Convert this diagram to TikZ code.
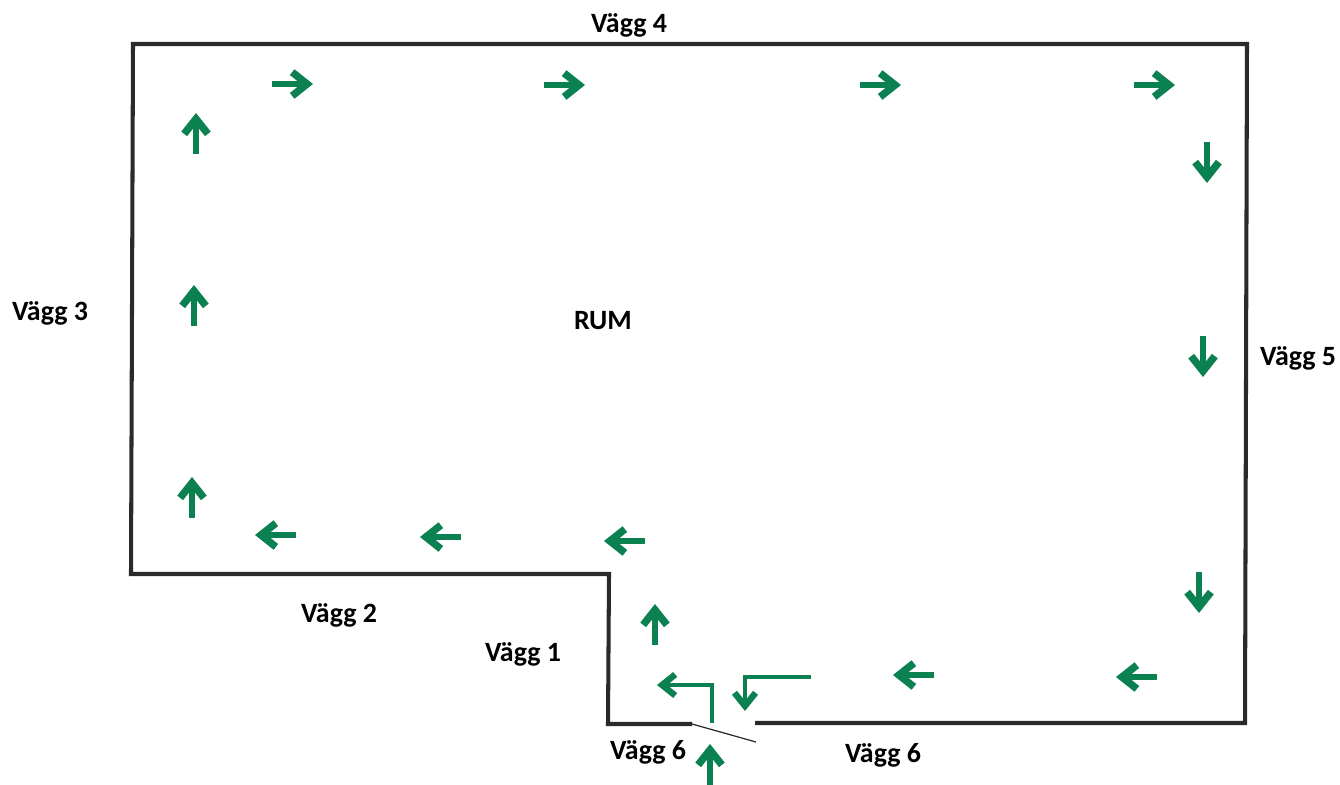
\documentclass[tikz,border=0pt]{standalone}
\usepackage{fontspec}
\setmainfont{Carlito}
\usepackage{xcolor}
\usetikzlibrary{arrows.meta}
\definecolor{flowgreen}{HTML}{0B8050}
\definecolor{wallgray}{HTML}{2A2A2A}
\tikzset{
  wall/.style={draw=wallgray, line width=2.3pt, line join=miter},
  door/.style={draw=wallgray, line width=0.7pt},
  flow/.style={draw=flowgreen, line width=3.5pt, -{Straight Barb[length=8.5pt, width=13.5pt, line width=4.2pt]}},
  bentflow/.style={draw=flowgreen, line width=2.8pt, line join=miter, -{Straight Barb[length=7.5pt, width=12pt, line width=3.6pt]}},
  lbl/.style={font=\bfseries\fontsize{15.9pt}{18pt}\selectfont, text=black, inner sep=0pt}
}

\begin{document}
\begin{tikzpicture}[x=0.02cm, y=-0.02cm]
    \useasboundingbox (0,0) rectangle (1340,785);
    % Walls
    \draw[wall] (692,724) -- (608,724) -- (609,574) -- (131,574) -- (133,44) -- (1247,44) -- (1245,723) -- (755,723);
    % Door
    \draw[door] (692,724) -- (756,742);
    % Flow along the walls
    \foreach \a/\b in {272/84, 544/85, 860/85, 1134/85}
      \draw[flow] (\a,\b) -- ++(41,0);
    \foreach \a/\b in {1207/142, 1203/336, 1199/572}
      \draw[flow] (\a,\b) -- ++(0,41);
    \foreach \a/\b in {1157/677, 934/675, 645/541, 461/537, 296/535}
      \draw[flow] (\a,\b) -- ++(-41,0);
    \foreach \a/\b in {192/518, 194/326, 196/154, 655/645, 710/785}
      \draw[flow] (\a,\b) -- ++(0,-41);
    % Around the door
    \draw[bentflow] (712,723) -- (712,685) -- (657,685);
    \draw[bentflow] (811,677) -- (745,677) -- (745,711);
    % Labels
    \node[lbl] (vagg4) at (629,25) {Vägg 4};
    \node[lbl] (vagg3) at (50,313) {Vägg 3};
    \node[lbl] (rum) at (603,321) {RUM};
    \node[lbl] (vagg5) at (1298,358) {Vägg 5};
    \node[lbl] (vagg2) at (339,615) {Vägg 2};
    \node[lbl] (vagg1) at (523,654) {Vägg 1};
    \node[lbl] (vagg6a) at (648,752) {Vägg 6};
    \node[lbl] (vagg6b) at (883,755) {Vägg 6};
\end{tikzpicture}
\end{document}
